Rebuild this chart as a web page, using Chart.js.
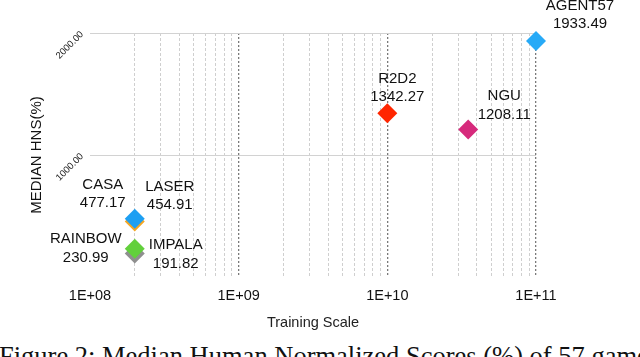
<!DOCTYPE html>
<html>
<head>
<meta charset="utf-8">
<script src="https://cdn.jsdelivr.net/npm/chart.js@4/dist/chart.umd.min.js"></script>
<style>
  html, body { margin: 0; padding: 0; background: #fff; overflow: hidden; }
  #wrap { position: relative; width: 640px; height: 357px; }
  #caption {
    position: absolute; left: -1px; top: 343px;
    font: 26.5px/27px "Liberation Serif", "Times New Roman", serif;
    color: #111; white-space: nowrap;
  }
</style>
</head>
<body>
<div id="wrap">
  <canvas id="chart" width="640" height="340"></canvas>
  <div id="caption">Figure 2: Median Human Normalized Scores (%) of 57 games</div>
</div>
<script>
  'use strict';

  // agents, drawn in this order (later ones sit on top)
  var agents = ['AGENT57', 'R2D2', 'NGU', 'LASER', 'CASA', 'IMPALA', 'RAINBOW'];
  var trainingScale = [1e11, 1e10, 3.5e10, 2e8, 2e8, 2e8, 2e8];
  var medianHns = [1933.49, 1342.27, 1208.11, 454.91, 477.17, 191.82, 230.99];
  var decades = [1e8, 1e9, 1e10, 1e11];
  var tickLabels = ['1E+08', '1E+09', '1E+10', '1E+11'];

  var colors = ['#27aaf7', '#ff2600', '#d62a7c', '#f5a623', '#1d9ff2', '#8f8f8f', '#62d03c'];
  // label placement relative to the marker: [dx, dy of name, dy of value]
  var labelPos = [
    [44, -35, -17],
    [10, -34, -16],
    [36, -34, -15],
    [35, -35, -17],
    [-32, -34, -16],
    [41, -9, 10],
    [-49, -10, 9]
  ];

  var FONT = '"Liberation Sans", Arial, sans-serif';

  var points = agents.map(function (a, i) {
    return { x: trainingScale[i], y: medianHns[i] };
  });

  function minorTicks() {
    var t = [];
    for (var d = 0; d < decades.length - 1; d++) {
      for (var m = 2; m <= 9; m++) {
        t.push({ value: m * decades[d] });
      }
    }
    return t;
  }

  var labelPlugin = {
    id: 'agentLabels',
    afterDatasetsDraw: function (chart) {
      var ctx = chart.ctx;
      var meta = chart.getDatasetMeta(0);
      ctx.save();
      ctx.font = '15px ' + FONT;
      ctx.fillStyle = '#111';
      ctx.textAlign = 'center';
      ctx.textBaseline = 'middle';
      meta.data.forEach(function (pt, i) {
        var p = labelPos[i];
        ctx.fillText(agents[i], pt.x + p[0], pt.y + p[1]);
        ctx.fillText(medianHns[i].toFixed(2), pt.x + p[0], pt.y + p[2]);
      });
      ctx.restore();
    }
  };

  new Chart(document.getElementById('chart').getContext('2d'), {
    type: 'scatter',
    data: {
      datasets: [{
        data: points,
        pointStyle: 'rectRot',
        pointRadius: 10,
        pointHoverRadius: 10,
        pointBorderWidth: 0,
        backgroundColor: colors,
        borderColor: colors,
        clip: false
      }]
    },
    options: {
      responsive: false,
      animation: false,
      devicePixelRatio: 1,
      layout: { padding: { left: 0, right: 104, top: 33, bottom: 0 } },
      plugins: {
        legend: { display: false },
        tooltip: { enabled: false }
      },
      scales: {
        x: {
          type: 'logarithmic',
          position: 'bottom',
          min: 1e8,
          max: 1e11,
          afterBuildTicks: function (scale) {
            scale.ticks = decades.map(function (v) { return { value: v, major: true }; });
          },
          afterFit: function (scale) { scale.height = 63; },
          border: { display: false, dash: [2, 2] },
          grid: {
            drawTicks: false,
            lineWidth: 1.3,
            color: function (c) {
              return c.tick && c.tick.value === decades[0] ? 'rgba(0,0,0,0)' : '#7a7a7a';
            }
          },
          ticks: {
            autoSkip: false,
            maxRotation: 0,
            padding: 10,
            color: '#111',
            font: { family: FONT, size: 14.5 },
            callback: function (v, i) { return tickLabels[i]; }
          },
          title: {
            display: true,
            text: 'Training Scale',
            color: '#222',
            font: { family: FONT, size: 14.5 },
            padding: { top: 0, bottom: 8 }
          }
        },
        xMinor: {
          type: 'logarithmic',
          position: 'top',
          min: 1e8,
          max: 1e11,
          afterBuildTicks: function (scale) { scale.ticks = minorTicks(); },
          afterFit: function (scale) { scale.height = 0; },
          border: { display: false, dash: [3, 2] },
          grid: { drawTicks: false, color: '#cfcfcf', lineWidth: 1 },
          ticks: { display: false }
        },
        y: {
          min: 0,
          max: 2000,
          afterFit: function (scale) { scale.width = 90; },
          border: { display: false },
          grid: {
            drawTicks: false,
            color: function (c) {
              return c.tick && c.tick.value === 0 ? 'rgba(0,0,0,0)' : '#d2d2d2';
            }
          },
          ticks: {
            stepSize: 1000,
            minRotation: 45,
            maxRotation: 45,
            padding: 8,
            color: '#222',
            font: { family: FONT, size: 9.5 },
            callback: function (v) { return v === 0 ? '' : v.toFixed(2); }
          },
          title: {
            display: true,
            text: 'MEDIAN HNS(%)',
            color: '#111',
            font: { family: FONT, size: 15 },
            padding: { top: 28, bottom: 0 }
          }
        }
      }
    },
    plugins: [labelPlugin]
  });
</script>
</body>
</html>
